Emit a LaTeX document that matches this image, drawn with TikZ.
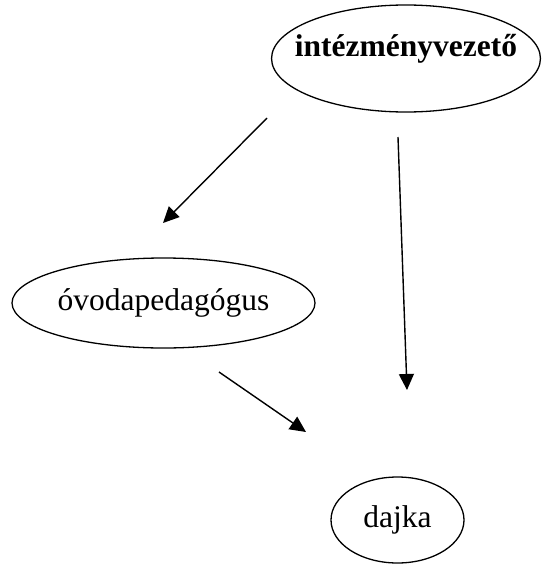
\documentclass[tikz,border=0pt]{standalone}
\usepackage{fontspec}
\setmainfont{Liberation Serif}
\usetikzlibrary{shapes,arrows.meta}

\begin{document}
\begin{tikzpicture}[x=1pt,y=-1pt,
	ell_node/.style={ellipse,draw,line width=1.3pt,inner sep=0pt,font=\fontsize{31.5}{36}\selectfont},
	arr/.style={line width=1.4pt,-{Triangle[length=16pt,width=15pt]}}]
	
	\useasboundingbox (0,0) rectangle (541,565);
	
	\node[ell_node,inner xsep=-16pt,minimum width=268pt,minimum height=107pt,text depth=26pt] (vezeto) at (406,58.5) {\textbf{intézményvezető}};
	\node[ell_node,minimum width=303pt,minimum height=90pt] (ovoda) at (163.5,303) {óvodapedagógus};
	\node[ell_node,minimum width=133pt,minimum height=86pt] (dajka) at (397.5,520) {dajka};
	
	\coordinate (v1) at (267,118);
	\coordinate (o1) at (163,223);
	\coordinate (v2) at (398,137);
	\coordinate (d1) at (407,390);
	\coordinate (o2) at (219,372);
	\coordinate (d2) at (306,432);
	
	\draw[arr] (v1) -- (o1);
	\draw[arr] (v2) -- (d1);
	\draw[arr] (o2) -- (d2);
\end{tikzpicture}
\end{document}
